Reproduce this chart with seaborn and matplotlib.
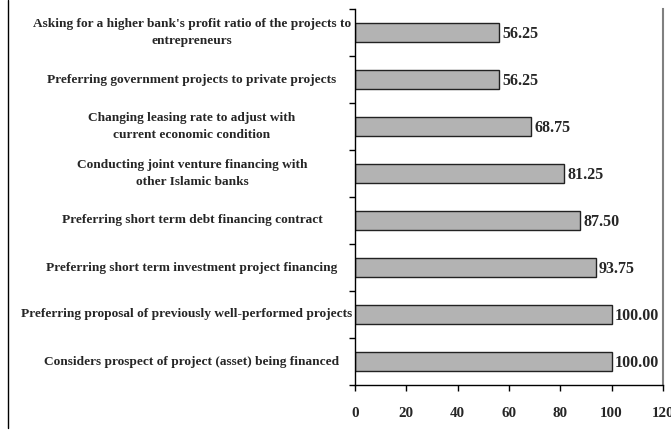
import matplotlib
matplotlib.use("Agg")
import matplotlib.pyplot as plt
import seaborn as sns
import pandas as pd
import matplotlib.transforms as mtrans
from matplotlib.lines import Line2D

categories = [
    "Asking for a higher bank's profit ratio of the projects to\nentrepreneurs",
    "Preferring government projects to private projects",
    "Changing leasing rate to adjust with\ncurrent economic condition",
    "Conducting joint venture financing with\nother Islamic banks",
    "Preferring short term debt financing contract",
    "Preferring short term investment project financing",
    "Preferring proposal of previously well-performed projects",
    "Considers prospect of project (asset) being financed",
]
values = [56.25, 56.25, 68.75, 81.25, 87.50, 93.75, 100.00, 100.00]
xticks = [0, 20, 40, 60, 80, 100, 120]

df = pd.DataFrame({"cat": categories, "val": values})

sns.set_style("white")
plt.rcParams["font.family"] = ["Liberation Serif", "DejaVu Serif"]
plt.rcParams["font.weight"] = "bold"

W, H = 671, 430
fig = plt.figure(figsize=(W / 100, H / 100), dpi=100)
ax = fig.add_axes([355 / W, 1 - 385 / H, (663 - 355) / W, (385 - 9) / H])

sns.barplot(data=df, x="val", y="cat", order=categories, orient="h",
            color="#b3b3b3", edgecolor="#222222", linewidth=1.0,
            width=0.41, saturation=1, ax=ax)

ax.set_xlim(0, 120)
ax.set_ylim(len(categories) - 0.5, -0.5)
ax.set_xticks(xticks)
ax.set_xticklabels([str(t) for t in xticks], fontsize=10.8, fontweight="bold")
ax.tick_params(axis="x", bottom=True, direction="out", length=4, width=1,
               color="black", pad=12)
ax.set_yticks([i - 0.5 for i in range(len(categories) + 1)])
ax.set_yticklabels([])
ax.tick_params(axis="y", left=True, direction="out", length=4, width=1,
               color="black")
ax.set_xlabel("")
ax.set_ylabel("")

for s in ["left", "bottom"]:
    ax.spines[s].set_color("black")
    ax.spines[s].set_linewidth(1.0)
ax.spines["top"].set_visible(False)
ax.spines["right"].set_color("#808080")
ax.spines["right"].set_linewidth(1.5)

# value labels
for i, v in enumerate(values):
    ax.annotate(f"{v:.2f}", xy=(v, i), xytext=(2.5, -1), textcoords="offset points",
                ha="left", va="center", fontsize=11.5, fontweight="bold")

# category labels, centered in the label area
trans = mtrans.blended_transform_factory(fig.transFigure, ax.transData)
center_x = 192 / W
texts = []
for i, c in enumerate(categories):
    t = ax.text(center_x, i, c, transform=trans, ha="center", va="center",
                multialignment="center", fontsize=9.6, fontweight="bold",
                linespacing=1.6)
    texts.append(t)
fig.canvas.draw()
r = fig.canvas.get_renderer()
limit = 352
for t in texts:
    bb = t.get_window_extent(r)
    if bb.x1 > limit:
        shift = bb.x1 - limit
        t.set_x(center_x - shift / W)

fig.add_artist(Line2D([8 / W, 8 / W], [1 - 428 / H, 1.0], transform=fig.transFigure,
                      color="black", linewidth=1.0))

fig.savefig("out.png", dpi=100)
